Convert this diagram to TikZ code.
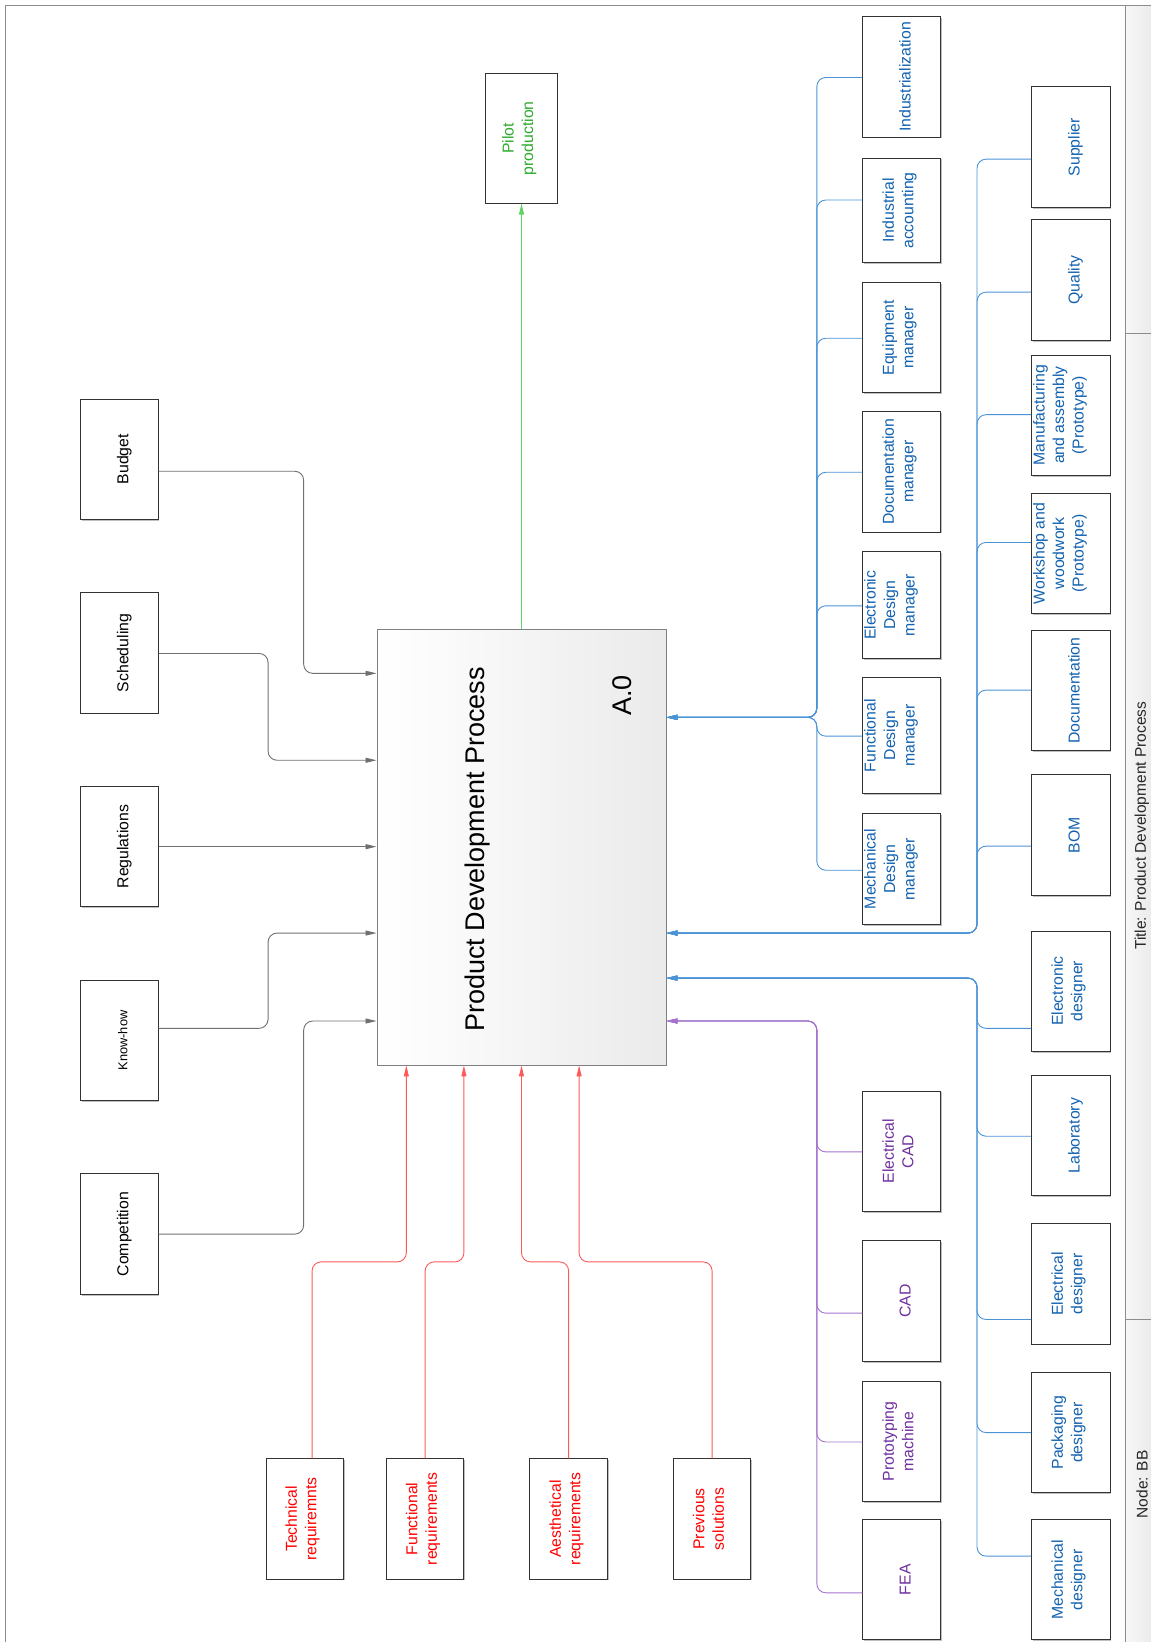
\documentclass[tikz,border=0pt]{standalone}
\usepackage{fontspec}
\setmainfont{Liberation Sans}
\usetikzlibrary{arrows.meta,shadows}
\definecolor{cblue}{HTML}{1262B0}
\definecolor{lblue}{HTML}{4A93D6}
\definecolor{cpurple}{HTML}{7030A0}
\definecolor{lpurple}{HTML}{A373CF}
\definecolor{cred}{HTML}{FF0000}
\definecolor{lred}{HTML}{FF5A5A}
\definecolor{cgreen}{HTML}{2EAA2E}
\definecolor{lgreen}{HTML}{5FD35F}
\definecolor{cgrey}{HTML}{707070}
\definecolor{framec}{HTML}{8C8C8C}
% optional argument: twice the shift of the text, in pt (positive = to the right)
\newcommand\rottext[2][0]{\hspace*{#1pt}\rotatebox{90}{\begin{tabular}{@{}c@{}}#2\end{tabular}}}
\begin{document}
\begin{tikzpicture}[x=1.0473pt,y=-1.0473pt,
  bx/.style 2 args={minimum width=#1*1.0473pt, minimum height=#2*1.0473pt},
  box/.style={draw=black!80, fill=white, line width=0.9pt, inner sep=0pt,
    drop shadow={shadow xshift=1.2pt, shadow yshift=-1.2pt, fill=black!25, opacity=1},
    font=\fontsize{15.8}{19.5}\selectfont},
  tipA/.style={-{Triangle[length=11pt,width=5pt]}},
  greyline/.style={tipA, draw=cgrey, line width=0.9pt, rounded corners=9pt},
  redline/.style={tipA, draw=lred, line width=0.9pt, rounded corners=9pt},
  blueline/.style={tipA, draw=lblue, line width=0.9pt, rounded corners=9pt},
  purpleline/.style={tipA, draw=lpurple, line width=0.9pt, rounded corners=9pt},
  greenline/.style={tipA, draw=lgreen, line width=0.9pt},
]
\useasboundingbox (0,0) rectangle (1099,1568);
% title strip and frame
\fill[left color=white!97!black, right color=white!92!black] (1075,5) rectangle (1100,1569);
\draw[framec, line width=1pt] (1075,5) -- (1075,1569);
\draw[framec, line width=1pt] (1075,318) -- (1100,318);
\draw[framec, line width=1pt] (1075,1260) -- (1100,1260);
\draw[framec, line width=1.2pt] (1100,5) -- (5,5) -- (5,1569);
\node[rotate=90, font=\fontsize{15.5}{18}\selectfont, text=black!85] (ttl) at (1090.5,788.5) {Title: Product Development Process};
\node[rotate=90, font=\fontsize{15.5}{18}\selectfont, text=black!85] (nodebb) at (1090.5,1417.5) {Node: BB};

% main box
\node[draw=black!50, line width=0.9pt, left color=white, right color=black!8,
  drop shadow={shadow xshift=1.2pt, shadow yshift=-1.2pt, fill=black!20, opacity=1},
  bx={276}{416}] (main) at (498,809) {};
\node[rotate=90, font=\fontsize{27}{30}\selectfont] (pdp) at (456,811) {Product Development Process};
\node[rotate=90, font=\fontsize{27}{30}\selectfont] (a0) at (594,664) {A.0};

% output
\node[box, bx={68}{124}, text=cgreen] (pilot) at (498,132) {\rottext[-4]{Pilot\\production}};
\draw[greenline] (main.north) -- (pilot.south);

% controls
\node[box, bx={74}{115}] (budget) at (114,438.5) {\rottext[10]{Budget}};
\node[box, bx={74}{115}] (sched) at (114,623.5) {\rottext[10]{Scheduling}};
\node[box, bx={74}{115}] (regul) at (114,808.5) {\rottext[10]{Regulations}};
\node[box, bx={74}{115}, font=\fontsize{12.8}{15}\selectfont] (know) at (114,993.5) {\rottext[10]{Know-how}};
\node[box, bx={74}{115}] (compet) at (114,1178.5) {\rottext[10]{Competition}};
\draw[greyline] (budget.east |- 0,450) -- (290,450) -- (290,643) -- (main.west |- 0,643);
\draw[greyline] (sched.east |- 0,624) -- (256,624) -- (256,726) -- (main.west |- 0,726);
\draw[greyline] (regul.east |- 0,808.5) -- (main.west |- 0,808.5);
\draw[greyline] (know.east |- 0,982) -- (256,982) -- (256,891) -- (main.west |- 0,891);
\draw[greyline] (compet.east |- 0,1178.5) -- (290,1178.5) -- (290,975) -- (main.west |- 0,975);

% inputs
\node[box, bx={74}{115}, text=cred] (tech) at (291,1450.5) {\rottext[-4]{Technical\\requiremnts}};
\node[box, bx={74}{115}, text=cred] (func) at (406,1450.5) {\rottext[-4]{Functional\\requirements}};
\node[box, bx={74}{115}, text=cred] (aest) at (543,1450.5) {\rottext[-4]{Aesthetical\\requirements}};
\node[box, bx={74}{115}, text=cred] (prev) at (680,1450.5) {\rottext[-4]{Previous\\solutions}};
\draw[redline] (tech.north -| 298,0) -- (298,1205) -- (388,1205) -- (main.south -| 388,0);
\draw[redline] (func.north) -- (406,1205) -- (443,1205) -- (main.south -| 443,0);
\draw[redline] (aest.north) -- (543,1205) -- (498,1205) -- (main.south -| 498,0);
\draw[redline] (prev.north) -- (680,1205) -- (553,1205) -- (main.south -| 553,0);

% mechanisms: managers
\node[box, bx={74}{115}, text=cblue] (indz) at (861,73.5) {\rottext[10]{Industrialization}};
\node[box, bx={74}{100}, text=cblue] (inda) at (861,201) {\rottext[-4]{Industrial\\accounting}};
\node[box, bx={74}{105}, text=cblue] (equip) at (861,322.5) {\rottext[-4]{Equipment\\manager}};
\node[box, bx={74}{115}, text=cblue] (docm) at (861,450.5) {\rottext[-4]{Documentation\\manager}};
\node[box, bx={74}{102}, text=cblue] (edm) at (861,578) {\rottext[-21]{Electronic\\Design\\manager}};
\node[box, bx={74}{111}, text=cblue] (fdm) at (861,702.5) {\rottext[-21]{Functional\\Design\\manager}};
\node[box, bx={74}{106}, text=cblue] (mdm) at (861,830) {\rottext[-21]{Mechanical\\Design\\manager}};
\foreach \n/\yy in {indz/74, inda/191, equip/323, docm/451, edm/578.5, fdm/703, mdm/831}
  \draw[blueline] (\n.west |- 0,\yy) -- (780,\yy) -- (780,685) -- (main.east |- 0,685);

% mechanisms: production side
\node[box, bx={75}{115}, text=cblue] (suppl) at (1022.5,140.5) {\rottext[10]{Supplier}};
\node[box, bx={75}{115}, text=cblue] (qual) at (1022.5,267.5) {\rottext[10]{Quality}};
\node[box, bx={75}{115}, text=cblue] (manuf) at (1022.5,396.5) {\rottext[-21]{Manufacturing\\and assembly\\(Prototype)}};
\node[box, bx={75}{115}, text=cblue] (work) at (1022.5,528.5) {\rottext[-21]{Workshop and\\woodwork\\(Prototype)}};
\node[box, bx={75}{115}, text=cblue] (docu) at (1022.5,659.5) {\rottext[10]{Documentation}};
\node[box, bx={75}{115}, text=cblue] (bom) at (1022.5,797.5) {\rottext[10]{BOM}};
\foreach \n/\yy in {suppl/152, qual/279, manuf/396, work/518, docu/659, bom/808}
  \draw[blueline] (\n.west |- 0,\yy) -- (933,\yy) -- (933,891) -- (main.east |- 0,891);

% mechanisms: designers
\node[box, bx={75}{115}, text=cblue] (edes) at (1022.5,946.5) {\rottext[-4]{Electronic\\designer}};
\node[box, bx={75}{115}, text=cblue] (lab) at (1022.5,1084.5) {\rottext[10]{Laboratory}};
\node[box, bx={75}{115}, text=cblue] (eldes) at (1022.5,1226) {\rottext[-4]{Electrical\\designer}};
\node[box, bx={75}{115}, text=cblue] (pack) at (1022.5,1368) {\rottext[-4]{Packaging\\designer}};
\node[box, bx={75}{115}, text=cblue] (mdes) at (1022.5,1508.5) {\rottext[-4]{Mechanical\\designer}};
\foreach \n/\yy in {edes/982, lab/1085, eldes/1260, pack/1368, mdes/1486}
  \draw[blueline] (\n.west |- 0,\yy) -- (933,\yy) -- (933,934) -- (main.east |- 0,934);

% mechanisms: tools
\node[box, bx={74}{115}, text=cpurple] (ecad) at (861,1099.5) {\rottext[-4]{Electrical\\CAD}};
\node[box, bx={74}{115}, text=cpurple] (cad) at (861,1242.5) {\rottext[10]{CAD}};
\node[box, bx={74}{115}, text=cpurple] (proto) at (861,1376.5) {\rottext[-4]{Prototyping\\machine}};
\node[box, bx={74}{115}, text=cpurple] (fea) at (861,1508.5) {\rottext[10]{FEA}};
\foreach \n/\yy in {ecad/1100, cad/1254, proto/1377, fea/1521}
  \draw[purpleline] (\n.west |- 0,\yy) -- (780,\yy) -- (780,975) -- (main.east |- 0,975);
\end{tikzpicture}
\end{document}
